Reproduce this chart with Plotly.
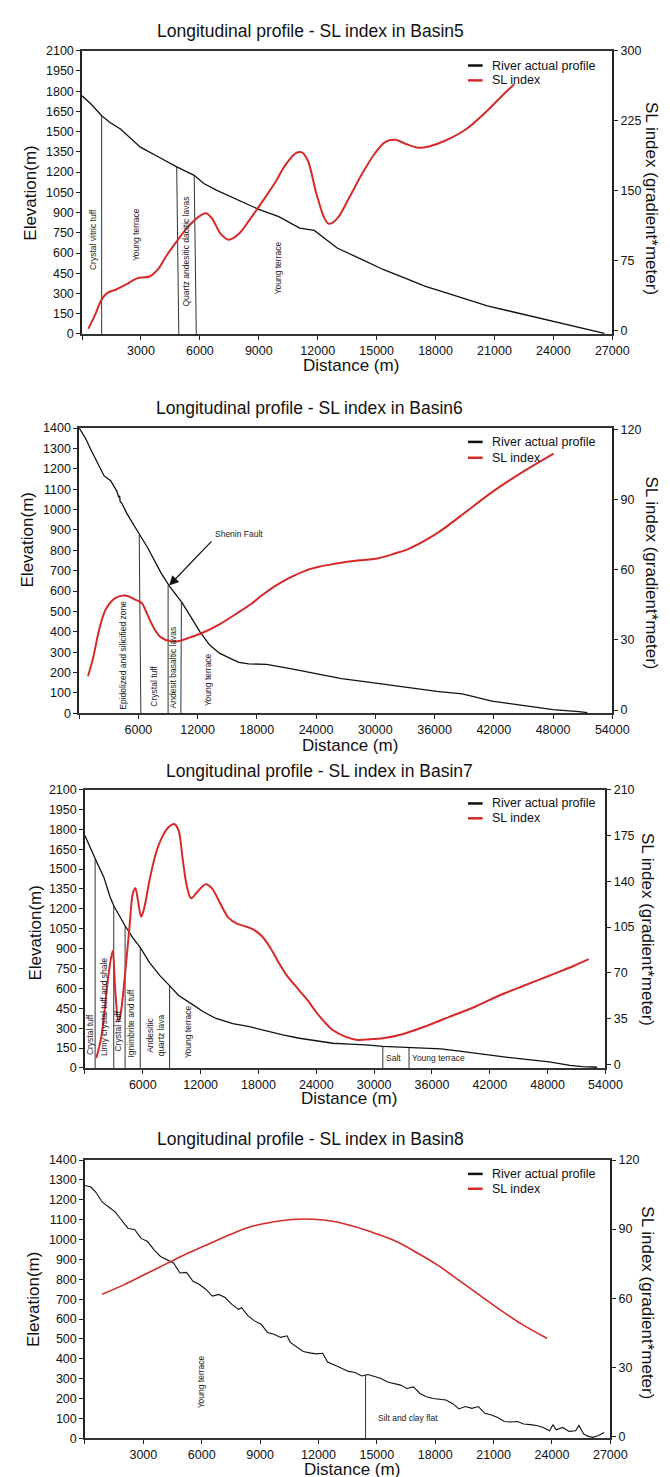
import plotly.graph_objects as go

W, H = 670, 1477
FONT = "Liberation Sans, Arial, Helvetica, sans-serif"

# ---------------- Basin5 ----------------
b5_dist = [0, 467, 998, 1422, 1953, 2972, 3969, 4819, 5710, 6200, 6835, 7896, 8958, 10019,
           11080, 11823, 12991, 14265, 15326, 16387, 17449, 18510, 19571, 20633, 21694,
           22755, 23817, 24878, 25939, 26364, 26600]
b5_elev = [1765, 1703, 1618, 1568, 1520, 1385, 1306, 1238, 1176, 1115, 1066, 993, 926, 870,
           784, 767, 637, 551, 478, 417, 355, 306, 257, 208, 172,
           135, 98, 61, 29, 12, 5]
b5_sl_dist = [318, 680, 1000, 1316, 1740, 2377, 2800, 3440, 3860, 4290, 4820, 5350, 5880,
              6300, 6620, 7050, 7470, 8000, 8530, 9170, 9800, 10340, 10870, 11190, 11500,
              11930, 12350, 12570, 12990, 13630, 14260, 14900, 15430, 15960, 16490, 17130,
              17660, 18510, 19570, 20630, 21380, 22010]
b5_sl = [2, 17.7, 33.6, 40.7, 44, 51, 56, 58, 65.5, 80, 95.6, 110, 121,
         125.7, 120, 104, 97.4, 104, 118.7, 138, 157.6, 177, 190, 191, 182,
         147, 120, 114.4, 120, 143.5, 168, 189.5, 202, 204.4, 200, 195.9,
         197.3, 203.7, 216, 235.5, 251.5, 264]
b5_bnd_top_x = [998, 4819, 5710]
b5_bnd_bot_x = [998, 4925, 5816]
b5_bnd_top = [1618, 1238, 1176]
b5_lab = ["Crystal vitric tuff", "Young terrace", "Quartz andesitic dacitic lavas", "Young terrace"]
b5_lab_x = [570, 2760, 5307, 9955]
b5_lab_y = [698, 735, 613, 490]

# ---------------- Basin6 ----------------
b6_dist = [0, 630, 1270, 1900, 2530, 3195, 3800, 4015, 4100, 4150, 4345, 4840, 5495, 6150,
           6970, 7630, 8290, 9110, 9770, 10420, 11250, 12240, 13220, 14210, 15190, 16180,
           17170, 18150, 18990, 21520, 24050, 25380, 26580, 29110, 30310, 31640, 34170,
           36226, 38810, 40920, 41816, 43450, 45980, 48000, 50620, 51470]
b6_elev = [1400, 1351, 1286, 1222, 1165, 1142, 1092, 1060, 1068, 1040, 1029, 980, 924, 875,
           810, 753, 689, 627, 583, 543, 478, 400, 335, 295, 272, 250,
           243, 243, 240, 218, 194, 184, 170, 154, 146, 137, 121,
           108, 95, 72, 60, 49, 32, 18, 8, 3]
b6_sl_dist = [897, 1390, 2040, 2700, 3690, 4675, 5660, 6320, 6970, 7630, 8290, 9280, 10260,
              11250, 12560, 14210, 15840, 17490, 18480, 20000, 21500, 23000, 24300, 25380,
              27350, 30310, 31960, 33270, 36230, 38520, 41820, 45100, 48060]
b6_sl = [14.5, 21.9, 34.6, 43.1, 48.0, 49.0, 47.3, 45.9, 40.3, 34.6, 31.1, 29.4, 29.7,
         31.1, 33.2, 36.7, 41.0, 45.6, 49.0, 53.5, 57, 59.8, 61.3, 62.2,
         63.6, 65.0, 67.0, 68.8, 75.6, 82.7, 93.3, 102.4, 109.8]
b6_bnd_top_x = [6085, 9010, 10360]
b6_bnd_bot_x = [6251, 9010, 10300]
b6_bnd_top = [875, 627, 543]
b6_lab = ["Epidolized and silicified zone", "Crystal tuff", "Andesit basaltic lavas", "Young terrace"]
b6_lab_x = [4450, 7565, 9600, 13050]
b6_lab_y = [283, 135, 225, 167]
b6_fault_head = (9110, 627)
b6_fault_tail = (13550, 851)
b6_fault_text = (16210, 880)

# ---------------- Basin7 ----------------
b7_dist = [0, 648, 1296, 1944, 2592, 3024, 3672, 4190, 4968, 5745, 6696, 7776, 8770, 9720,
           11016, 12312, 13608, 15336, 17064, 18792, 20520, 22248, 23976, 25704, 27432,
           29160, 30888, 33480, 35208, 36936, 38664, 40392, 42120, 43848, 46008, 48168,
           50328, 51624, 53136]
b7_elev = [1752, 1640, 1541, 1441, 1292, 1218, 1131, 1069, 982, 907, 795, 696, 621, 547,
           485, 422, 373, 335, 311, 278, 249, 224, 204, 186, 179,
           174, 162, 154, 149, 144, 129, 112, 94, 80, 62, 45,
           20, 10, 5]
b7_sl_dist = [1180, 1728, 2376, 2866, 3154, 3470, 3672, 4104, 4622, 4968, 5227, 5486, 5832,
              6178, 6696, 7344, 7992, 8640, 9288, 9720, 10152, 10584, 11016, 11664, 12528,
              13176, 14040, 14904, 15768, 16632, 17496, 18360, 19224, 20088, 20952, 22248,
              23112, 23976, 24840, 25704, 27000, 28296, 29592, 30888, 32616, 35208, 37800,
              40392, 42984, 45576, 48168, 50760, 52272]
b7_sl = [5, 22.6, 65, 86.8, 55, 33.2, 37.7, 65, 105.6, 130.8, 134.6, 125.8, 113,
         120.7, 140.8, 161, 173.5, 181, 183.6, 178.6, 156, 135.8, 127, 132, 137.8,
         134.6, 123, 112, 107.6, 105.6, 103, 98, 89.3, 78, 68, 56.6,
         49, 40.2, 32.7, 26.4, 21.4, 18.9, 19.4, 20.1, 22.6, 28.9, 36.5,
         44, 52.8, 60.4, 67.9, 75.5, 80.5]
b7_bnd_top_x = [1050, 2985, 4160, 5730, 8780, 30900, 33620]
b7_bnd_bot_x = [1050, 2985, 4160, 5730, 8780, 30900, 33620]
b7_bnd_top = [1572, 1223, 1069, 907, 621, 162, 154]
b7_vlab = ["Crystal tuff", "Limy crystal tuff and shale", "Crystal tuff", "Ignimbrite and tuff",
           "Andesitic<br>quartz lava", "Young terrace"]
b7_vlab_x = [505, 1950, 3470, 4750, 7280, 10720]
b7_vlab_y = [254, 458, 279, 341, 247, 271]
b7_hlab = ["Salt", "Young terrace"]
b7_hlab_x = [32060, 36730]
b7_hlab_y = [72, 72]

# ---------------- Basin8 ----------------
b8_dist = [0, 300, 550, 883, 1217, 1550, 1883, 2217, 2550, 2883, 3217, 3550, 3883, 4217, 4550,
           4883, 5217, 5550, 5883, 6217, 6550, 6883, 7217, 7550, 7883, 8050, 8383, 8717,
           9050, 9383, 9717, 10050, 10383, 10550, 10883, 11217, 11550, 11883, 12217, 12467,
           12883, 13217, 13550, 13883, 14217, 14550, 14883, 15217, 15550, 15883, 16217,
           16550, 16883, 17217, 17550, 17883, 18217, 18550, 18883, 19217, 19550, 19883,
           20217, 20550, 20883, 21217, 21550, 21883, 22217, 22550, 22883, 23217, 23550,
           23883, 24050, 24217, 24550, 24883, 25217, 25383, 25633, 25883, 26100, 26362, 26685]
b8_elev = [1272, 1264, 1239, 1189, 1164, 1139, 1097, 1056, 1051, 1006, 990, 948, 915, 898, 882,
           832, 835, 790, 774, 749, 716, 724, 707, 674, 649, 657, 616, 591,
           574, 533, 524, 508, 516, 483, 458, 437, 430, 425, 428, 384,
           367, 351, 337, 331, 314, 321, 309, 301, 284, 276, 268,
           251, 259, 226, 209, 201, 198, 193, 176, 148, 160, 151,
           160, 126, 118, 105, 85, 82, 85, 72, 69, 65, 55,
           38, 69, 43, 55, 35, 38, 65, 22, 10, 5, 13, 30]
b8_sl_dist = [883, 2045, 2883, 4196, 5272, 6217, 7425, 8500, 9576, 10653, 11717, 12805, 13881,
              14957, 16033, 17109, 18185, 19261, 20337, 21413, 22489, 23750]
b8_sl = [61.7, 66, 69.5, 75, 79.5, 83, 87.5, 91, 93, 94.2, 94.3, 93.3, 91,
         88, 84.5, 79.5, 74, 67.5, 61, 54.5, 48.5, 42.5]
b8_bnd_top_x = [14420]
b8_bnd_bot_x = [14420]
b8_bnd_top = [318]
b8_vlab = ["Young terrace"]
b8_vlab_x = [5933]
b8_vlab_y = [284]
b8_hlab = ["Silt and clay flat"]
b8_hlab_x = [16583]
b8_hlab_y = [105]

legend_names = ["River actual profile", "SL index"]

# ---------------- layout geometry (pixels) ----------------
panels = [
    dict(name="Basin5", px=(76, 620), py=(36, 322), xmax=27000, xstep=3000,
         ymax=2100, ystep=150, rrange=(-3.6, 300), rticks=[0, 75, 150, 225, 300],
         title_xy=(310, 16), dist_y=354, elev_xy=(23, 180), sl_xy=(660, 185),
         leg_y=(51, 66),
         prof=(b5_dist, b5_elev), sl=(b5_sl_dist, b5_sl),
         bnd=(b5_bnd_top_x, b5_bnd_bot_x, b5_bnd_top),
         vlab=(b5_lab, b5_lab_x, b5_lab_y), hlab=([], [], []), lw=1.3, rw=2.0),
    dict(name="Basin6", px=(73, 620), py=(417, 705), xmax=54000, xstep=6000,
         ymax=1400, ystep=100, rrange=(-1.4, 120.7), rticks=[0, 30, 60, 90, 120],
         title_xy=(309, 397), dist_y=737, elev_xy=(20, 530), sl_xy=(660, 563),
         leg_y=(431, 447),
         prof=(b6_dist, b6_elev), sl=(b6_sl_dist, b6_sl),
         bnd=(b6_bnd_top_x, b6_bnd_bot_x, b6_bnd_top),
         vlab=(b6_lab, b6_lab_x, b6_lab_y), hlab=([], [], []), lw=1.3, rw=2.0),
    dict(name="Basin7", px=(79, 613), py=(782, 1063), xmax=54000, xstep=6000,
         ymax=2100, ystep=150, rrange=(-2.5, 210), rticks=[0, 35, 70, 105, 140, 175, 210],
         title_xy=(320, 763), dist_y=1094, elev_xy=(28, 927), sl_xy=(656, 923),
         leg_y=(796, 811),
         prof=(b7_dist, b7_elev), sl=(b7_sl_dist, b7_sl),
         bnd=(b7_bnd_top_x, b7_bnd_bot_x, b7_bnd_top),
         vlab=(b7_vlab, b7_vlab_x, b7_vlab_y), hlab=(b7_hlab, b7_hlab_x, b7_hlab_y),
         lw=1.3, rw=2.0),
    dict(name="Basin8", px=(79, 618), py=(1156, 1437), xmax=27000, xstep=3000,
         ymax=1400, ystep=100, rrange=(-0.9, 120), rticks=[0, 30, 60, 90, 120],
         title_xy=(310, 1135), dist_y=1468, elev_xy=(26, 1297), sl_xy=(656, 1300),
         leg_y=(1170, 1185),
         prof=(b8_dist, b8_elev), sl=(b8_sl_dist, b8_sl),
         bnd=(b8_bnd_top_x, b8_bnd_bot_x, b8_bnd_top),
         vlab=(b8_vlab, b8_vlab_x, b8_vlab_y), hlab=(b8_hlab, b8_hlab_x, b8_hlab_y),
         lw=1.1, rw=1.6),
]

RED = "#d42a2a"
BLACK = "#111111"


def fx(p):
    return p / W


def fy(p):
    return 1 - p / H


fig = go.Figure()
layout = dict(width=W, height=H, margin=dict(l=0, r=0, t=0, b=0),
              paper_bgcolor="white", plot_bgcolor="white",
              font=dict(family=FONT, color="#111"), showlegend=False)
annotations = []
shapes = []

for i, P in enumerate(panels, start=1):
    xname = "x" if i == 1 else f"x{i}"
    yl = 2 * i - 1
    yr = 2 * i
    ylname = "y" if yl == 1 else f"y{yl}"
    yrname = f"y{yr}"

    # boundary lines
    bx, by = [], []
    for xt, xb, yt in zip(*P["bnd"]):
        bx += [xb, xt, None]
        by += [0, yt, None]
    fig.add_trace(go.Scatter(x=bx, y=by, mode="lines", xaxis=xname, yaxis=ylname,
                             line=dict(color="#333", width=1), showlegend=False,
                             hoverinfo="skip"))
    fig.add_trace(go.Scatter(x=P["prof"][0], y=P["prof"][1], mode="lines",
                             name=legend_names[0], xaxis=xname, yaxis=ylname,
                             line=dict(color=BLACK, width=P["lw"])))
    fig.add_trace(go.Scatter(x=P["sl"][0], y=P["sl"][1], mode="lines",
                             name=legend_names[1], xaxis=xname, yaxis=yrname,
                             line=dict(color=RED, width=P["rw"], shape="spline", smoothing=0.9)))

    xd = [fx(P["px"][0]), fx(P["px"][1])]
    yd = [fy(P["py"][1]), fy(P["py"][0])]
    xt_vals = list(range(0, P["xmax"] + 1, P["xstep"]))
    xt_text = [""] + [str(v) for v in xt_vals[1:]]
    tickfont = dict(size=12.5, family=FONT, color="#111")
    layout["xaxis" if i == 1 else f"xaxis{i}"] = dict(
        domain=xd, anchor=ylname, range=[0, P["xmax"]], tickvals=xt_vals, ticktext=xt_text,
        ticks="outside", ticklen=4, tickwidth=1, tickcolor="#222",
        showline=True, linecolor="#333", linewidth=1.5, mirror=True,
        showgrid=False, zeroline=False, tickfont=tickfont)
    layout["yaxis" if yl == 1 else f"yaxis{yl}"] = dict(
        domain=yd, anchor=xname, range=[0, P["ymax"]], dtick=P["ystep"], tick0=0,
        ticks="outside", ticklen=4, tickwidth=1, tickcolor="#222",
        showline=True, linecolor="#222", linewidth=1.5,
        showgrid=False, zeroline=False, tickfont=tickfont)
    layout[f"yaxis{yr}"] = dict(
        domain=yd, anchor=xname, overlaying=ylname, side="right",
        range=list(P["rrange"]), tickvals=P["rticks"],
        ticks="outside", ticklen=4, tickwidth=1, tickcolor="#222",
        showline=True, linecolor="#222", linewidth=1.5,
        showgrid=False, zeroline=False, tickfont=tickfont)

    # legend (key lines + labels)
    for name, col, ry in zip(legend_names, [BLACK, RED], P["leg_y"]):
        shapes.append(dict(type="line", xref="paper", yref="paper",
                           x0=fx(472), x1=fx(487), y0=fy(ry), y1=fy(ry),
                           line=dict(color=col, width=2.5)))
        annotations.append(dict(text=name, x=fx(495), y=fy(ry), xref="paper", yref="paper",
                                showarrow=False, xanchor="left", yanchor="middle",
                                font=dict(size=12.5, family=FONT, color="#111")))

    # titles
    annotations.append(dict(text=f"Longitudinal profile - SL index in {P['name']}",
                            x=fx(P["title_xy"][0]), y=fy(P["title_xy"][1]),
                            xref="paper", yref="paper", showarrow=False,
                            font=dict(size=17.5, family=FONT, color="#111"),
                            xanchor="center", yanchor="middle"))
    annotations.append(dict(text="Distance (m)", x=fx((P["px"][0] + P["px"][1]) / 2 + 4),
                            y=fy(P["dist_y"]), xref="paper", yref="paper", showarrow=False,
                            font=dict(size=17, family=FONT, color="#111"),
                            xanchor="center", yanchor="middle"))
    annotations.append(dict(text="Elevation(m)", x=fx(P["elev_xy"][0]), y=fy(P["elev_xy"][1]),
                            xref="paper", yref="paper", showarrow=False, textangle=-90,
                            font=dict(size=17, family=FONT, color="#111"),
                            xanchor="center", yanchor="middle"))
    annotations.append(dict(text="SL index (gradient*meter)", x=fx(P["sl_xy"][0]),
                            y=fy(P["sl_xy"][1]), xref="paper", yref="paper", showarrow=False,
                            textangle=90, font=dict(size=17, family=FONT, color="#111"),
                            xanchor="center", yanchor="middle"))
    for t, lx, ly in zip(*P["vlab"]):
        annotations.append(dict(text=t, x=lx, y=ly, xref=xname, yref=ylname, showarrow=False,
                                textangle=-90, font=dict(size=8.5, family=FONT, color="#222"),
                                xanchor="center", yanchor="middle"))
    for t, lx, ly in zip(*P["hlab"]):
        annotations.append(dict(text=t, x=lx, y=ly, xref=xname, yref=ylname, showarrow=False,
                                font=dict(size=8.5, family=FONT, color="#222"),
                                xanchor="center", yanchor="middle"))

# Shenin Fault arrow and label (Basin6)
annotations.append(dict(text="", x=b6_fault_head[0], y=b6_fault_head[1],
                        ax=b6_fault_tail[0], ay=b6_fault_tail[1], axref="x2", ayref="y3",
                        xref="x2", yref="y3", showarrow=True, arrowhead=2, arrowsize=1.6,
                        arrowwidth=1.2, arrowcolor="#111"))
annotations.append(dict(text="Shenin Fault", x=b6_fault_text[0], y=b6_fault_text[1],
                        xref="x2", yref="y3", showarrow=False,
                        font=dict(size=8.5, family=FONT, color="#222"),
                        xanchor="center", yanchor="middle"))

layout["annotations"] = annotations
layout["shapes"] = shapes
fig.update_layout(**layout)
fig.write_html("out.html")
